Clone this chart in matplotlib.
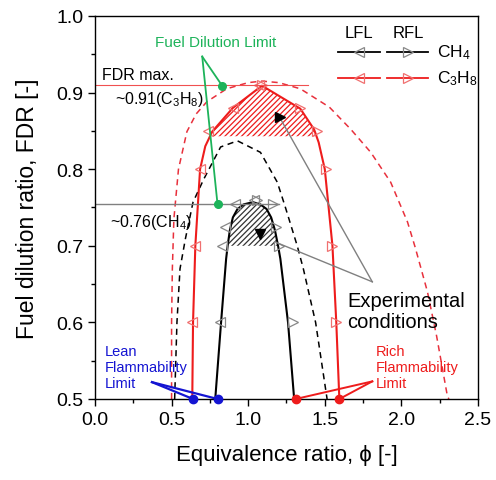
import numpy as np
import matplotlib
matplotlib.use('Agg')
import matplotlib.pyplot as plt

plt.rcParams['font.family'] = ['Liberation Sans', 'DejaVu Sans']
plt.rcParams['mathtext.default'] = 'regular'
plt.rcParams['hatch.linewidth'] = 0.9

# CH4 flammability boundary (left / right branch)
ch4_left_fdr = [0.5, 0.6, 0.683, 0.70, 0.72, 0.737, 0.748, 0.754, 0.757]
ch4_left_phi = [0.785, 0.823, 0.856, 0.866, 0.88, 0.90, 0.93, 0.97, 1.03]
ch4_right_fdr = [0.5, 0.6, 0.683, 0.70, 0.72, 0.737, 0.748, 0.754, 0.757]
ch4_right_phi = [1.30, 1.26, 1.21, 1.195, 1.175, 1.15, 1.12, 1.08, 1.03]

# C3H8 flammability boundary
c3h8_left_fdr = [0.5, 0.6, 0.7, 0.8, 0.83, 0.849, 0.88, 0.909]
c3h8_left_phi = [0.635, 0.64, 0.655, 0.686, 0.72, 0.765, 0.90, 1.09]
c3h8_right_fdr = [0.5, 0.6, 0.7, 0.8, 0.835, 0.852, 0.879, 0.909]
c3h8_right_phi = [1.595, 1.575, 1.55, 1.50, 1.46, 1.43, 1.34, 1.09]

# measured points (LFL / RFL markers)
ch4_m_fdr = [0.6, 0.7, 0.725, 0.755, 0.76]
ch4_lfl_phi = [0.817, 0.83, 0.85, 0.915, 1.04]
ch4_rfl_phi = [1.29, 1.20, 1.18, 1.16, 1.06]
c3h8_m_fdr = [0.6, 0.7, 0.8, 0.85, 0.88, 0.91]
c3h8_lfl_phi = [0.633, 0.653, 0.686, 0.74, 0.90, 1.07]
c3h8_rfl_phi = [1.57, 1.55, 1.51, 1.45, 1.34, 1.09]

# dashed reference curves
ch4_dash_phi = [0.52, 0.535, 0.555, 0.59, 0.64, 0.71, 0.82, 0.93, 1.08, 1.19, 1.24, 1.32, 1.36, 1.44, 1.515]
ch4_dash_fdr = [0.5, 0.6, 0.67, 0.709, 0.757, 0.787, 0.829, 0.837, 0.822, 0.783, 0.752, 0.70, 0.67, 0.6, 0.5]
c3h8_dash_phi = [0.50, 0.50, 0.505, 0.515, 0.545, 0.60, 0.66, 0.73, 0.86, 1.0, 1.09, 1.2, 1.34, 1.53,
                 1.67, 1.80, 1.93, 2.04, 2.09, 2.17, 2.23, 2.30, 2.31]
c3h8_dash_fdr = [0.5, 0.6, 0.67, 0.735, 0.80, 0.849, 0.872, 0.888, 0.905, 0.913, 0.915, 0.913, 0.905, 0.881,
                 0.852, 0.822, 0.783, 0.731, 0.698, 0.64, 0.582, 0.504, 0.5]

ch4_max = 0.755
c3h8_max = 0.91
ch4_hatch_low = 0.70
c3h8_hatch_low = 0.843

RED = '#ee1c1c'
GREEN = '#1db35a'
BLUE = '#1414d2'

fig = plt.figure(figsize=(4.96, 4.81), dpi=100)
ax = fig.add_axes([0.1915, 0.1684, 0.7722, 0.7963])

# dashed curves
ax.plot(c3h8_dash_phi, c3h8_dash_fdr, color='#e8303c', lw=1.1, ls=(0, (4, 3)))
ax.plot(ch4_dash_phi, ch4_dash_fdr, color='black', lw=1.1, ls=(0, (4, 3)))

# hatched experimental regions
y = np.linspace(ch4_hatch_low, max(ch4_left_fdr), 60)
ax.fill_betweenx(y, np.interp(y, ch4_left_fdr, ch4_left_phi), np.interp(y, ch4_right_fdr, ch4_right_phi),
                 facecolor='none', edgecolor='#333333', hatch='//////', linewidth=0)
y = np.linspace(c3h8_hatch_low, max(c3h8_left_fdr), 60)
ax.fill_betweenx(y, np.interp(y, c3h8_left_fdr, c3h8_left_phi), np.interp(y, c3h8_right_fdr, c3h8_right_phi),
                 facecolor='none', edgecolor=RED, hatch='//////', linewidth=0)

# boundaries
ax.plot(ch4_left_phi + ch4_right_phi[::-1], ch4_left_fdr + ch4_right_fdr[::-1], color='black', lw=1.5)
ax.plot(c3h8_left_phi + c3h8_right_phi[::-1], c3h8_left_fdr + c3h8_right_fdr[::-1], color=RED, lw=1.5)

# markers
mk = dict(ls='none', ms=7, mfc='none', mew=0.9)
ax.plot(ch4_lfl_phi, ch4_m_fdr, marker='<', mec='#888888', **mk)
ax.plot(ch4_rfl_phi, ch4_m_fdr, marker='>', mec='#888888', **mk)
ax.plot(c3h8_lfl_phi, c3h8_m_fdr, marker='<', mec='#f07070', **mk)
ax.plot(c3h8_rfl_phi, c3h8_m_fdr, marker='>', mec='#f07070', **mk)

# FDR max lines
ax.plot([0, 1.39], [c3h8_max, c3h8_max], color='#f05050', lw=0.8)
ax.plot([0, 1.2], [ch4_max, ch4_max], color='#808080', lw=1.0)
ax.text(0.046, 0.923, 'FDR max.', fontsize=11.5, va='center', ha='left')
ax.text(0.13, 0.892, r'~0.91(C$_3$H$_8$)', fontsize=11.5, va='center', ha='left')
ax.text(0.10, 0.732, r'~0.76(CH$_4$)', fontsize=11.5, va='center', ha='left')

# fuel dilution limit
ax.text(0.79, 0.966, 'Fuel Dilution Limit', color=GREEN, fontsize=11, ha='center', va='center')
for px, py in [(0.83, 0.909), (0.80, 0.754)]:
    ax.plot([0.70, px], [0.947, py], color=GREEN, lw=1.3)
    ax.plot(px, py, 'o', color=GREEN, ms=5.5)

# legend drawn by hand
ax.text(1.725, 0.979, 'LFL', fontsize=12, ha='center', va='center')
ax.text(2.045, 0.979, 'RFL', fontsize=12, ha='center', va='center')
for fy, col, mcol, lab in [(0.953, 'black', '#888888', r'CH$_4$'), (0.919, RED, '#f07070', r'C$_3$H$_8$')]:
    ax.plot([1.587, 1.86], [fy, fy], color=col, lw=1.3)
    ax.plot(1.725, fy, marker='<', mec=mcol, mfc='none', ms=7, mew=0.9)
    ax.plot([1.907, 2.175], [fy, fy], color=col, lw=1.3)
    ax.plot(2.04, fy, marker='>', mec=mcol, mfc='none', ms=7, mew=0.9)
    ax.text(2.235, fy, lab, fontsize=12.5, ha='left', va='center')

# experimental conditions
ax.text(1.646, 0.615, 'Experimental\nconditions', fontsize=14.5, ha='left', va='center', linespacing=1.15)
ax.plot([1.81, 1.21], [0.653, 0.866], color='#808080', lw=1.0)
ax.plot([1.81, 1.20], [0.653, 0.703], color='#808080', lw=1.0)
ax.plot(1.21, 0.868, marker='>', color='black', ms=6.5)
ax.plot(1.08, 0.716, marker='v', color='black', ms=6.5)

# flammability limits
ax.text(0.065, 0.542, 'Lean\nFlammability\nLimit', color=BLUE, fontsize=10.5, ha='left', va='center',
        linespacing=1.2)
for px in [0.64, 0.80]:
    ax.plot([0.372, px], [0.522, 0.5], color=BLUE, lw=1.6, clip_on=False)
    ax.plot(px, 0.5, 'o', color=BLUE, ms=6, clip_on=False, zorder=5)
ax.text(1.835, 0.542, 'Rich\nFlammability\nLimit', color=RED, fontsize=10.5, ha='left', va='center',
        linespacing=1.2)
for px in [1.31, 1.595]:
    ax.plot([1.81, px], [0.523, 0.5], color=RED, lw=1.4, clip_on=False)
    ax.plot(px, 0.5, 'o', color=RED, ms=6, clip_on=False, zorder=5)

ax.set_xlim(0, 2.5)
ax.set_ylim(0.5, 1.0)
ax.set_xticks(np.arange(0, 2.51, 0.5))
ax.set_xticks(np.arange(0.25, 2.5, 0.5), minor=True)
ax.set_yticks(np.arange(0.5, 1.01, 0.1))
ax.set_yticks(np.arange(0.55, 1.0, 0.1), minor=True)
ax.yaxis.set_major_formatter(matplotlib.ticker.FormatStrFormatter('%.1f'))
ax.xaxis.set_major_formatter(matplotlib.ticker.FormatStrFormatter('%.1f'))
ax.tick_params(which='major', direction='out', length=5, width=1, labelsize=14)
ax.tick_params(which='minor', direction='out', length=3, width=1)
for s in ax.spines.values():
    s.set_linewidth(1.0)

ax.set_xlabel('Equivalence ratio, ϕ [-]', fontsize=16, labelpad=12)
ax.set_ylabel('Fuel dilution ratio, FDR [-]', fontsize=16.5, labelpad=12)

plt.savefig('out.png', dpi=100)
